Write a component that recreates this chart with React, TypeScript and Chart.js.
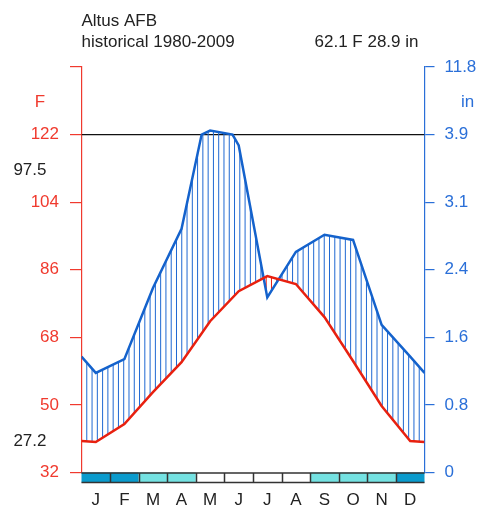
import React, { useEffect, useRef } from 'react';
import { Chart, registerables } from 'chart.js';

Chart.register(...registerables);

// ---- data ----
const months = ['J', 'F', 'M', 'A', 'M', 'J', 'J', 'A', 'S', 'O', 'N', 'D'];
const tempF = [40.1, 44.9, 53.4, 61.4, 72.3, 80.3, 84.3, 82.2, 73.4, 61.7, 49.7, 40.4];
const precipIn = [1.16, 1.32, 2.15, 2.84, 4.4, 3.81, 2.04, 2.57, 2.77, 2.71, 1.72, 1.35];
const leftTicks = [32, 50, 68, 86, 104, 122, 140];
const leftTickLabels = ['32', '50', '68', '86', '104', '122', ''];
const rightTickLabels = ['0', '0.8', '1.6', '2.4', '3.1', '3.9', '11.8'];
const frostClass = [2, 2, 1, 1, 0, 0, 0, 0, 1, 1, 1, 2];
const stationName = 'Altus AFB';
const periodLabel = 'historical 1980-2009';
const summaryLabel = '62.1 F 28.9 in';
const maxWarmLabel = '97.5';
const minColdLabel = '27.2';
const tempUnit = 'F';
const precipUnit = 'in';
const refLineF = 122;

// ---- style ----
const FONT = '"Liberation Sans", Arial, sans-serif';
const FS = 17;
const RED_AXIS = '#f03a2e';
const RED_LINE = '#e8200f';
const BLUE_AXIS = '#2a6fd8';
const BLUE_LINE = '#1462cc';
const HATCH_BLUE = '#1f68d2';
const HATCH_RED = '#e8200f';
const TEXT = '#222222';
const FROST_COLORS = ['#ffffff', '#74e2e2', '#0a9bcd'];
const HATCH_COUNT = 65;

// Walter-Lieth precipitation scale: 0-100 mm linear (20 mm = 18 F), above 100 mm compressed
const BREAK_IN = 100 / 25.4;
function precipToAxis(v: number): number {
  const mm = v * 25.4;
  if (mm <= 100) return 32 + mm * 0.9;
  return 122 + ((mm - 100) * 18) / 200;
}

function wrapRaw(vals: number[]) {
  const pts = [{ x: 0, y: vals[vals.length - 1] }];
  vals.forEach((v, i) => pts.push({ x: i + 0.5, y: v }));
  pts.push({ x: 12, y: vals[0] });
  return pts;
}

// map precipitation polyline onto the axis, adding a vertex where the scale changes slope
function precipPoints(vals: number[]) {
  const raw = wrapRaw(vals);
  const out: { x: number; y: number }[] = [];
  raw.forEach((p, i) => {
    if (i > 0) {
      const a = raw[i - 1];
      if ((a.y - BREAK_IN) * (p.y - BREAK_IN) < 0) {
        const t = (BREAK_IN - a.y) / (p.y - a.y);
        out.push({ x: a.x + t * (p.x - a.x), y: precipToAxis(BREAK_IN) });
      }
    }
    out.push({ x: p.x, y: precipToAxis(p.y) });
  });
  return out;
}

function interpY(pts: { x: number; y: number }[], x: number): number {
  for (let i = 0; i < pts.length - 1; i++) {
    const a = pts[i];
    const b = pts[i + 1];
    if (x >= a.x && x <= b.x) {
      const t = b.x === a.x ? 0 : (x - a.x) / (b.x - a.x);
      return a.y + t * (b.y - a.y);
    }
  }
  return pts[pts.length - 1].y;
}

const hatchPlugin = {
  id: 'wlHatch',
  beforeDatasetDraw(chart: any, args: any) {
    if (args.index !== 1) return;
    const ctx = chart.ctx;
    const xs = chart.scales.x;
    const tp = chart.getDatasetMeta(0).data.map((e: any) => ({ x: e.x, y: e.y }));
    const pp = chart.getDatasetMeta(1).data.map((e: any) => ({ x: e.x, y: e.y }));
    ctx.save();
    ctx.lineWidth = 1;
    for (let k = 1; k < HATCH_COUNT; k++) {
      const x = xs.getPixelForValue((k * 12) / HATCH_COUNT);
      const yp = interpY(pp, x);
      const yt = interpY(tp, x);
      ctx.strokeStyle = yp < yt ? HATCH_BLUE : HATCH_RED;
      ctx.beginPath();
      ctx.moveTo(x, yp);
      ctx.lineTo(x, yt);
      ctx.stroke();
    }
    ctx.restore();
  },
};

const decorPlugin = {
  id: 'wlDecor',
  afterDraw(chart: any) {
    const ctx = chart.ctx;
    const xs = chart.scales.x;
    const ys = chart.scales.y;
    const area = chart.chartArea;
    ctx.save();
    // month frost bar
    const top = area.bottom;
    const h = 10;
    frostClass.forEach((c, i) => {
      const x0 = xs.getPixelForValue(i);
      const x1 = xs.getPixelForValue(i + 1);
      ctx.fillStyle = FROST_COLORS[c];
      ctx.fillRect(x0, top, x1 - x0, h);
    });
    ctx.strokeStyle = '#333333';
    ctx.lineWidth = 1.5;
    ctx.beginPath();
    ctx.moveTo(area.left, top + 0.5);
    ctx.lineTo(area.right, top + 0.5);
    ctx.moveTo(area.left, top + h);
    ctx.lineTo(area.right, top + h);
    for (let i = 1; i < 12; i++) {
      const x = Math.round(xs.getPixelForValue(i)) + 0.5;
      ctx.moveTo(x, top);
      ctx.lineTo(x, top + h);
    }
    ctx.stroke();

    // texts
    ctx.font = `${FS}px ${FONT}`;
    ctx.textBaseline = 'alphabetic';
    ctx.fillStyle = TEXT;
    ctx.textAlign = 'left';
    ctx.fillText(stationName, area.left, 26);
    ctx.fillText(periodLabel, area.left, 46.5);
    ctx.textAlign = 'right';
    ctx.fillText(summaryLabel, 418.5, 46.5);
    ctx.fillText(maxWarmLabel, 46.5, ys.getPixelForValue(refLineF) + 40.5);
    ctx.fillText(minColdLabel, 46.5, ys.getPixelForValue(tempF[11]) + 5.5);
    ctx.textAlign = 'center';
    ctx.fillStyle = RED_AXIS;
    ctx.fillText(tempUnit, 40, 106.5);
    ctx.fillStyle = BLUE_AXIS;
    ctx.fillText(precipUnit, 467.5, 107);
    ctx.restore();
  },
};

export default function App() {
  const ref = useRef<HTMLCanvasElement | null>(null);

  useEffect(() => {
    if (!ref.current) return;
    const tempPts = wrapRaw(tempF);
    const precipPts = precipPoints(precipIn);
    const chart = new Chart(ref.current, {
      type: 'line',
      data: {
        datasets: [
          {
            label: 'Temperature',
            data: tempPts,
            borderColor: RED_LINE,
            borderWidth: 2.5,
            pointRadius: 0,
            tension: 0,
            fill: false,
            order: 1,
          },
          {
            label: 'Precipitation',
            data: precipPts,
            borderColor: BLUE_LINE,
            borderWidth: 2.5,
            pointRadius: 0,
            tension: 0,
            fill: false,
            order: 2,
          },
          {
            label: 'ref',
            data: [
              { x: 0, y: refLineF },
              { x: 12, y: refLineF },
            ],
            borderColor: '#111111',
            borderWidth: 1.2,
            pointRadius: 0,
            fill: false,
            order: 3,
          },
        ],
      },
      options: {
        responsive: false,
        animation: false,
        devicePixelRatio: 1,
        layout: { padding: { top: 67, left: 0, right: 0, bottom: 0 } },
        plugins: { legend: { display: false }, tooltip: { enabled: false }, title: { display: false } },
        scales: {
          x: {
            type: 'linear',
            min: 0,
            max: 12,
            position: 'bottom',
            grid: { display: false, drawTicks: false },
            border: { display: false },
            afterBuildTicks: (axis: any) => {
              axis.ticks = months.map((_, i) => ({ value: i + 0.5 }));
            },
            afterFit: (s: any) => {
              s.height = 40.5;
            },
            ticks: {
              autoSkip: false,
              maxRotation: 0,
              minRotation: 0,
              padding: 18,
              color: TEXT,
              font: { family: FONT, size: FS },
              callback: (_v: any, i: number) => months[i],
            },
          },
          y: {
            type: 'linear',
            position: 'left',
            min: 32,
            max: 140,
            afterBuildTicks: (axis: any) => {
              axis.ticks = leftTicks.map((v) => ({ value: v }));
            },
            afterFit: (s: any) => {
              s.width = 81.5;
            },
            grid: { drawOnChartArea: false, color: RED_AXIS, tickLength: 11.5, lineWidth: 1.2 },
            border: { color: RED_AXIS, width: 1.2 },
            ticks: {
              padding: 11,
              color: RED_AXIS,
              font: { family: FONT, size: FS },
              callback: (_v: any, i: number) => leftTickLabels[i],
            },
          },
          y2: {
            type: 'linear',
            position: 'right',
            min: 32,
            max: 140,
            afterBuildTicks: (axis: any) => {
              axis.ticks = leftTicks.map((v) => ({ value: v }));
            },
            afterFit: (s: any) => {
              s.width = 58.5;
            },
            grid: { drawOnChartArea: false, color: BLUE_AXIS, tickLength: 10, lineWidth: 1.2 },
            border: { color: BLUE_AXIS, width: 1.2 },
            ticks: {
              padding: 10,
              color: BLUE_AXIS,
              font: { family: FONT, size: FS },
              callback: (_v: any, i: number) => rightTickLabels[i],
            },
          },
        },
      },
      plugins: [hatchPlugin, decorPlugin],
    });
    return () => chart.destroy();
  }, []);

  return (
    <div style={{ position: 'fixed', left: 0, top: 0, width: 483, height: 513, background: '#fff' }}>
      <canvas ref={ref} width={483} height={513} style={{ display: 'block' }} />
    </div>
  );
}
